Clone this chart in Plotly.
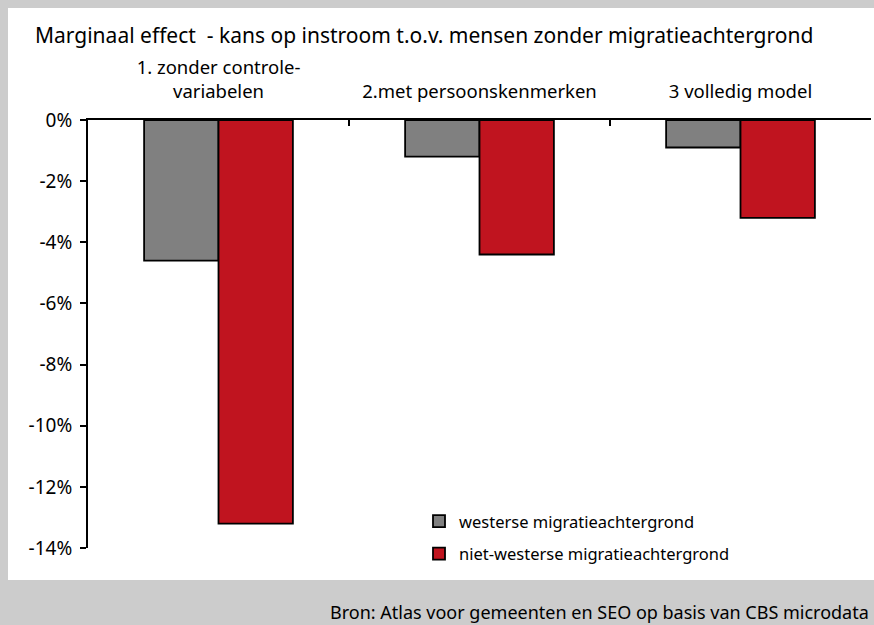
import plotly.graph_objects as go

# Categories (regression models) and marginal effects in percentage points
categories = ["1. zonder controle-<br>variabelen", "2.met persoonskenmerken", "3 volledig model"]
westers = [-4.6, -1.2, -0.9]
niet_westers = [-13.2, -4.4, -3.2]
series_names = ["westerse migratieachtergrond", "niet-westerse migratieachtergrond"]

tick_values = [0, -2, -4, -6, -8, -10, -12, -14]
tick_labels = ["0%", "-2%", "-4%", "-6%", "-8%", "-10%", "-12%", "-14%"]

title_text = "Marginaal effect  - kans op instroom t.o.v. mensen zonder migratieachtergrond"
source_text = "Bron: Atlas voor gemeenten en SEO op basis van CBS microdata"

FONT = "Noto Sans"
W, H = 874, 625
L, R, T, B = 88, 3, 120, 77
PW, PH = W - L - R, H - T - B


def px_x(x):
    return (x - L) / PW


def px_y(y):
    return (H - B - y) / PH


fig = go.Figure()
fig.add_trace(go.Bar(
    x=categories, y=westers, name=series_names[0],
    marker=dict(color="#808080", line=dict(color="black", width=1.8)),
    legendgroup="a",
))
fig.add_trace(go.Bar(
    x=categories, y=niet_westers, name=series_names[1],
    marker=dict(color="#c0141f", line=dict(color="black", width=1.8)),
    legendgroup="b",
))

fig.update_layout(
    width=W, height=H,
    margin=dict(l=L, r=R, t=T, b=B, pad=0),
    paper_bgcolor="#cccccc",
    plot_bgcolor="white",
    barmode="group",
    bargap=0.43,
    bargroupgap=0,
    font=dict(family=FONT, size=16, color="black"),
    title=dict(
        text=title_text, font=dict(family=FONT, size=21, color="black"),
        xref="container", yref="container",
        x=35 / W, xanchor="left", y=1 - 36 / H, yanchor="middle",
    ),
    showlegend=True,
    legend=dict(
        x=px_x(419), y=px_y(504), xanchor="left", yanchor="top",
        bgcolor="rgba(0,0,0,0)", font=dict(family=FONT, size=16.5),
        traceorder="grouped", tracegroupgap=8,
    ),
    shapes=[dict(
        type="rect", xref="paper", yref="paper", layer="below",
        x0=px_x(8), x1=px_x(880), y0=px_y(580), y1=px_y(8),
        fillcolor="white", line=dict(width=0),
    )],
    annotations=[dict(
        text=source_text, xref="paper", yref="paper",
        x=px_x(871), y=px_y(612), xanchor="right", yanchor="middle",
        showarrow=False, font=dict(family=FONT, size=18, color="black"),
    )],
)

fig.update_xaxes(
    side="top", type="category",
    showline=True, linecolor="black", linewidth=2,
    ticks="inside", tickson="boundaries", ticklen=6, tickcolor="black", tickwidth=2,
    showgrid=False, zeroline=False,
    tickfont=dict(family=FONT, size=18.5),
    ticklabelstandoff=13,
)
fig.update_yaxes(
    range=[-14, 0],
    tickvals=tick_values, ticktext=tick_labels,
    showline=True, linecolor="black", linewidth=2,
    ticks="outside", ticklen=6, tickcolor="black", tickwidth=2,
    showgrid=False, zeroline=False,
    tickfont=dict(family=FONT, size=19),
    ticklabelstandoff=4,
)

fig.write_html("out.html")
